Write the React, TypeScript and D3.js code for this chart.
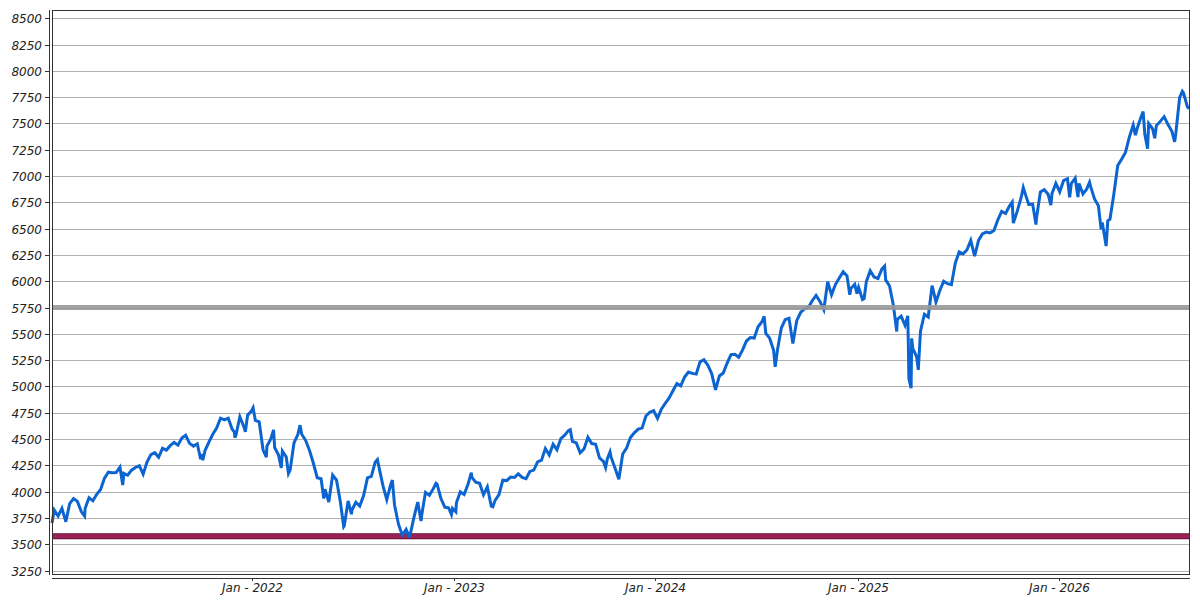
import * as d3 from "d3";
import React, { useEffect, useRef } from "react";

// weekly Friday closes, first week ending 2021-01-08
const close2021 = [3825, 3768, 3841, 3714, 3887, 3935, 3907, 3811, 3842, 3943, 3913, 3975, 4020, 4129, 4185, 4180, 4181, 4233, 4174, 4156, 4204, 4230, 4247, 4166, 4281, 4352, 4370, 4327, 4412, 4395, 4437, 4468, 4442, 4509, 4535, 4459, 4433, 4455, 4357, 4391, 4471, 4545, 4605, 4698, 4683, 4698, 4595, 4538, 4712, 4621, 4726, 4766];
const close2022 = [4677, 4663, 4398, 4432, 4501, 4419, 4349, 4385, 4329, 4204, 4463, 4543, 4546, 4488, 4393, 4272, 4132, 4123, 4024, 3901, 4158, 4109, 3901, 3675, 3912, 3825, 3899, 3863, 3962, 4130, 4145, 4280, 4228, 4058, 3924, 4067, 3873, 3693, 3586, 3640, 3583, 3753, 3901, 3771, 3993, 3965, 4026, 4072, 3934, 3852, 3845, 3840];
const close2023 = [3895, 3999, 3973, 4071, 4136, 4090, 4079, 3970, 4046, 3862, 3917, 3971, 4109, 4105, 4138, 4134, 4169, 4136, 4124, 4192, 4205, 4282, 4299, 4410, 4348, 4450, 4399, 4505, 4536, 4582, 4478, 4464, 4370, 4406, 4516, 4457, 4450, 4320, 4288, 4309, 4328, 4224, 4117, 4358, 4415, 4514, 4559, 4595, 4604, 4719, 4755, 4770];
const close2024 = [4697, 4784, 4840, 4891, 4959, 5027, 5006, 5089, 5137, 5124, 5117, 5234, 5254, 5204, 5123, 4967, 5100, 5128, 5223, 5303, 5305, 5278, 5347, 5432, 5465, 5460, 5567, 5615, 5505, 5459, 5347, 5344, 5554, 5635, 5648, 5408, 5626, 5703, 5738, 5751, 5815, 5865, 5808, 5729, 5996, 5871, 5969, 6032, 6090, 6051, 5931, 5971];
const close2025 = [5942, 5827, 5997, 6101, 6041, 6026, 6115, 6013, 5955, 5770, 5639, 5668, 5581, 5074, 5363, 5283, 5525, 5687, 5660, 5958, 5803, 5912, 6000, 5977, 5968, 6173, 6279, 6260, 6297, 6389, 6238, 6389, 6450, 6467, 6460, 6482, 6584, 6664, 6644, 6716, 6553, 6664, 6792, 6840, 6729, 6734, 6603, 6849, 6870, 6827, 6834, 6930];
const close2026 = [6850, 6958, 6975, 6930, 6980, 6930, 6830, 6878, 6900, 6782, 6718, 6560, 6335, 6590, 6830, 7100, 7160, 7225, 7370, 7485, 7450, 7560, 7400, 7500, 7450, 7480, 7520, 7565, 7490, 7425, 7400, 7745, 7790, 7660];

// mid-week closes that matter for the shape (spikes, first/last day)
const midWeek: [string, number][] = [
  ["2021-01-04", 3701], ["2021-01-27", 3750], ["2021-03-04", 3768], ["2021-05-12", 4063],
  ["2021-09-30", 4308], ["2021-10-04", 4300], ["2021-11-30", 4567], ["2021-12-01", 4513],
  ["2021-12-20", 4568],
  ["2022-01-03", 4797], ["2022-01-27", 4327], ["2022-02-09", 4587], ["2022-02-23", 4226],
  ["2022-03-08", 4171], ["2022-03-29", 4632], ["2022-05-11", 3935], ["2022-06-16", 3667],
  ["2022-06-30", 3785], ["2022-08-16", 4305], ["2022-09-12", 4110], ["2022-10-12", 3577],
  ["2022-11-03", 3720], ["2022-11-30", 4080], ["2022-12-28", 3783],
  ["2023-01-05", 3808], ["2023-02-02", 4180], ["2023-03-13", 3856], ["2023-07-31", 4589],
  ["2023-10-03", 4229], ["2023-10-11", 4377],
  ["2024-07-16", 5667], ["2024-08-05", 5186], ["2024-12-18", 5872], ["2024-12-31", 5882],
  ["2025-01-13", 5836], ["2025-02-19", 6144], ["2025-03-13", 5522], ["2025-04-02", 5671],
  ["2025-04-03", 5397], ["2025-04-08", 4983], ["2025-04-09", 5457], ["2025-04-21", 5158],
  ["2025-10-08", 6753], ["2025-10-28", 6891], ["2025-11-20", 6539], ["2025-12-17", 6725],
  ["2026-01-20", 6798], ["2026-02-04", 6800], ["2026-02-25", 6942], ["2026-03-18", 6494],
  ["2026-03-30", 6574], ["2026-05-19", 7390], ["2026-06-02", 7613], ["2026-06-10", 7261],
  ["2026-06-23", 7360], ["2026-07-29", 7325], ["2026-08-12", 7805], ["2026-08-24", 7640],
];

const firstFriday = "2021-01-08";
const yTicks = d3.range(3250, 8501, 250);
const supportLevel = 3575;
const pivotLevel = 5750;

type Point = { date: Date; value: number };

const parse = d3.utcParse("%Y-%m-%d");

const buildSeries = (): Point[] => {
  const weekly = [...close2021, ...close2022, ...close2023, ...close2024, ...close2025, ...close2026];
  const start = parse(firstFriday)!;
  const pts: Point[] = weekly.map((v, i) => ({ date: d3.utcDay.offset(start, i * 7), value: v }));
  midWeek.forEach(([d, v]) => pts.push({ date: parse(d)!, value: v }));
  return pts.sort((a, b) => +a.date - +b.date);
};

const W = 1200;
const H = 600;
const plot = { left: 52, top: 10, right: 1189, bottom: 574 };

const App: React.FC = () => {
  const svgRef = useRef<SVGSVGElement | null>(null);

  useEffect(() => {
    const svg = d3.select(svgRef.current);
    svg.selectAll("*").remove();

    const data = buildSeries();

    const x = d3
      .scaleUtc()
      .domain(d3.extent(data, (d) => d.date) as [Date, Date])
      .range([plot.left, plot.right]);
    const y = d3.scaleLinear().domain([3217, 8579]).range([plot.bottom, plot.top]);

    const font = "'DejaVu Sans', sans-serif";

    // grid
    svg
      .append("g")
      .selectAll("line")
      .data(yTicks)
      .enter()
      .append("line")
      .attr("x1", plot.left)
      .attr("x2", plot.right)
      .attr("y1", (d) => Math.round(y(d)) + 0.5)
      .attr("y2", (d) => Math.round(y(d)) + 0.5)
      .attr("stroke", "#b2b2b2")
      .attr("stroke-width", 1);

    // support line under the series
    svg
      .append("line")
      .attr("x1", plot.left)
      .attr("x2", plot.right)
      .attr("y1", y(supportLevel))
      .attr("y2", y(supportLevel))
      .attr("stroke", "#6b0f36")
      .attr("stroke-width", 6);
    svg
      .append("line")
      .attr("x1", plot.left)
      .attr("x2", plot.right)
      .attr("y1", y(supportLevel))
      .attr("y2", y(supportLevel))
      .attr("stroke", "#9a2257")
      .attr("stroke-width", 4);

    const line = d3
      .line<Point>()
      .x((d) => x(d.date))
      .y((d) => y(d.value));

    svg
      .append("path")
      .datum(data)
      .attr("d", line)
      .attr("fill", "none")
      .attr("stroke", "#0b64d0")
      .attr("stroke-width", 3)
      .attr("stroke-linejoin", "miter");

    // pivot line over the series
    svg
      .append("line")
      .attr("x1", plot.left)
      .attr("x2", plot.right)
      .attr("y1", y(pivotLevel))
      .attr("y2", y(pivotLevel))
      .attr("stroke", "#989898")
      .attr("stroke-opacity", 0.9)
      .attr("stroke-width", 5);

    // plot frame
    svg
      .append("rect")
      .attr("x", plot.left + 0.5)
      .attr("y", plot.top + 0.5)
      .attr("width", plot.right - plot.left)
      .attr("height", plot.bottom - plot.top)
      .attr("fill", "none")
      .attr("stroke", "#333")
      .attr("stroke-width", 1);

    // y axis
    const yAxis = svg.append("g");
    yAxis
      .append("line")
      .attr("x1", 49.5)
      .attr("x2", 49.5)
      .attr("y1", plot.top)
      .attr("y2", plot.bottom + 1)
      .attr("stroke", "#333");
    const yt = yAxis
      .selectAll("g")
      .data(yTicks)
      .enter()
      .append("g")
      .attr("transform", (d) => `translate(0,${Math.round(y(d)) + 0.5})`);
    yt.append("line").attr("x1", 45).attr("x2", 49).attr("stroke", "#333");
    yt.append("text")
      .attr("x", 42)
      .attr("dy", "0.36em")
      .attr("text-anchor", "end")
      .attr("font-family", font)
      .attr("font-style", "italic")
      .attr("font-size", 12)
      .attr("fill", "#222")
      .text((d) => d);

    // x axis
    const xAxis = svg.append("g");
    xAxis
      .append("line")
      .attr("x1", plot.left)
      .attr("x2", plot.right + 1)
      .attr("y1", 578.5)
      .attr("y2", 578.5)
      .attr("stroke", "#333");
    const years = d3.utcYear.range(x.domain()[0], x.domain()[1]).filter((d) => d > x.domain()[0]);
    const xt = xAxis
      .selectAll("g")
      .data(years)
      .enter()
      .append("g")
      .attr("transform", (d) => `translate(${Math.round(x(d)) + 0.5},0)`);
    xt.append("line").attr("y1", 578).attr("y2", 581).attr("stroke", "#333");
    xt.append("text")
      .attr("y", 592)
      .attr("text-anchor", "middle")
      .attr("font-family", font)
      .attr("font-style", "italic")
      .attr("font-size", 12)
      .attr("fill", "#222")
      .text((d) => `Jan - ${d.getUTCFullYear()}`);
  }, []);

  return (
    <svg
      ref={svgRef}
      width={W}
      height={H}
      style={{ position: "absolute", left: 0, top: 0, background: "#fff" }}
    ></svg>
  );
};

export default App;
